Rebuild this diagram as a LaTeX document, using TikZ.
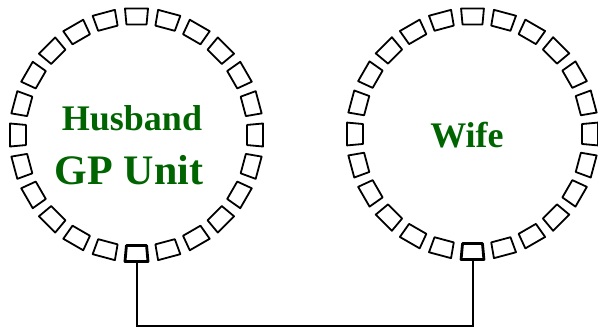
\documentclass[tikz,border=0pt]{standalone}
\usepackage{fontspec}
\setmainfont{Liberation Serif}
\definecolor{labelgreen}{RGB}{0,100,0}
\begin{document}
\begin{tikzpicture}[x=1pt,y=-1pt,
  cell/.style={draw=black,line width=1.8pt,line join=round},
  portcell/.style={draw=black,line width=2.8pt,line join=round},
  wire/.style={draw=black,line width=2pt},
  lbl/.style={text=labelgreen,font=\bfseries,anchor=base,inner sep=0pt}]
\useasboundingbox (0,0) rectangle (598,329);
% left ring
\begin{scope}[shift={(136.5,135)}]
  \foreach \a in {0,15,...,345}{
    \ifnum\a=90\relax
      \path[portcell] (\a-5.2:127) -- (\a+5.2:127) -- (\a+5.2:111) -- (\a-5.2:111) -- cycle;
    \else
      \path[cell] (\a-5.2:127) -- (\a+5.2:127) -- (\a+5.2:111) -- (\a-5.2:111) -- cycle;
    \fi
  }
  \coordinate (lport) at (90:127);
\end{scope}
% right ring
\begin{scope}[shift={(472.5,134)}]
  \foreach \a in {0,15,...,345}{
    \ifnum\a=90\relax
      \path[portcell] (\a-5.2:126) -- (\a+5.2:126) -- (\a+5.2:110) -- (\a-5.2:110) -- cycle;
    \else
      \path[cell] (\a-5.2:126) -- (\a+5.2:126) -- (\a+5.2:110) -- (\a-5.2:110) -- cycle;
    \fi
  }
  \coordinate (rport) at (90:126);
\end{scope}
\node[lbl,font=\bfseries\fontsize{36}{40}\selectfont] (husband) at (132,131) {Husband};
\node[lbl,font=\bfseries\fontsize{42}{46}\selectfont] (gpunit) at (129,185) {GP Unit};
\node[lbl,font=\bfseries\fontsize{36}{40}\selectfont] (wife) at (467,148) {Wife};
\draw[wire] (lport) -- ++(0,64) -| (rport);
\end{tikzpicture}
\end{document}
